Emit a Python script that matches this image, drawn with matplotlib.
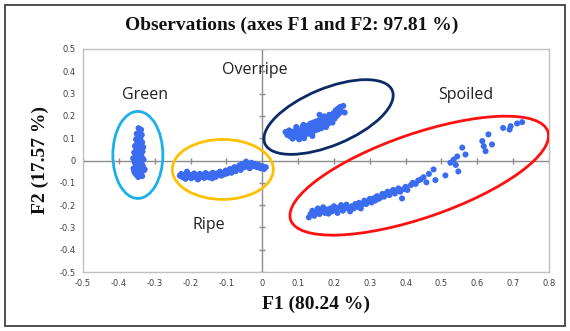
import matplotlib
matplotlib.use("Agg")
import matplotlib.pyplot as plt
from matplotlib.patches import Ellipse, Rectangle
from matplotlib.transforms import Affine2D
import numpy as np

# ---------------- data ----------------
green_x = [-0.345,-0.338,-0.342,-0.350,-0.336,-0.347,-0.340,-0.352,-0.344,-0.335,
           -0.349,-0.341,-0.355,-0.338,-0.346,-0.351,-0.343,-0.334,-0.357,-0.348,
           -0.339,-0.345,-0.353,-0.336,-0.342,-0.350,-0.331,-0.347,-0.340,-0.356,
           -0.344,-0.337,-0.352,-0.333,-0.348,-0.341,-0.359,-0.345,-0.330,-0.350,
           -0.338,-0.355,-0.343,-0.328,-0.349,-0.340,-0.357,-0.335,-0.346,-0.352,
           -0.339,-0.344,-0.360,-0.332,-0.347]
green_y = [0.145,0.138,0.128,0.120,0.115,0.108,0.100,0.095,0.088,0.082,
           0.076,0.070,0.065,0.060,0.055,0.050,0.045,0.040,0.036,0.032,
           0.028,0.024,0.020,0.016,0.012,0.008,0.004,0.000,-0.004,-0.008,
           -0.012,-0.016,-0.020,-0.024,-0.028,-0.032,-0.036,-0.040,-0.044,-0.048,
           -0.052,-0.056,-0.060,-0.040,-0.064,-0.068,-0.050,-0.070,-0.074,-0.062,
           0.030,0.090,0.010,0.060,-0.020]

ripe_x = [-0.230,-0.226,-0.222,-0.218,-0.214,-0.210,-0.206,-0.202,-0.198,-0.194,
          -0.190,-0.186,-0.182,-0.178,-0.174,-0.170,-0.166,-0.162,-0.158,-0.154,
          -0.150,-0.146,-0.142,-0.138,-0.134,-0.130,-0.126,-0.122,-0.118,-0.114,
          -0.110,-0.106,-0.102,-0.098,-0.094,-0.090,-0.086,-0.082,-0.078,-0.074,
          -0.068,-0.064,-0.060,-0.055,-0.050,-0.045,-0.040,-0.035,-0.030,-0.025,
          -0.020,-0.015,-0.010,-0.005,0.000,0.005,0.010,-0.210,-0.180,-0.140]
ripe_y = [-0.068,-0.060,-0.075,-0.065,-0.082,-0.058,-0.072,-0.064,-0.080,-0.068,
          -0.058,-0.075,-0.066,-0.082,-0.060,-0.072,-0.064,-0.078,-0.056,-0.068,
          -0.075,-0.062,-0.070,-0.055,-0.066,-0.074,-0.058,-0.064,-0.050,-0.068,
          -0.056,-0.062,-0.045,-0.058,-0.050,-0.038,-0.055,-0.044,-0.030,-0.048,
          -0.036,-0.022,-0.042,-0.015,-0.030,-0.005,-0.020,-0.035,-0.010,-0.025,
          -0.015,-0.030,-0.020,-0.035,-0.025,-0.038,-0.030,-0.050,-0.085,-0.080]

overripe_x = [0.065,0.070,0.075,0.078,0.082,0.085,0.088,0.092,0.095,0.098,
              0.100,0.103,0.106,0.108,0.110,0.112,0.115,0.117,0.120,0.122,
              0.125,0.127,0.130,0.132,0.134,0.136,0.138,0.140,0.142,0.144,
              0.146,0.148,0.150,0.152,0.154,0.156,0.158,0.160,0.162,0.165,
              0.168,0.170,0.173,0.176,0.178,0.181,0.184,0.187,0.190,0.193,
              0.196,0.199,0.202,0.205,0.208,0.211,0.214,0.217,0.220,0.226,
              0.230,0.115,0.160,0.095,0.140]
overripe_y = [0.128,0.115,0.135,0.108,0.122,0.098,0.130,0.112,0.140,0.105,
              0.125,0.095,0.118,0.135,0.108,0.150,0.128,0.100,0.140,0.118,
              0.155,0.130,0.145,0.120,0.165,0.138,0.152,0.128,0.170,0.145,
              0.158,0.135,0.175,0.150,0.162,0.140,0.180,0.155,0.168,0.145,
              0.185,0.160,0.198,0.172,0.150,0.190,0.165,0.205,0.180,0.195,
              0.170,0.212,0.188,0.225,0.200,0.232,0.210,0.240,0.220,0.245,
              0.215,0.160,0.205,0.150,0.110]

spoiled_x = [0.130,0.135,0.140,0.145,0.150,0.155,0.160,0.165,0.170,0.175,
             0.180,0.185,0.190,0.195,0.200,0.205,0.210,0.215,0.220,0.225,
             0.230,0.235,0.240,0.245,0.250,0.255,0.260,0.265,0.270,0.275,
             0.280,0.285,0.290,0.295,0.300,0.305,0.310,0.315,0.320,0.325,
             0.330,0.335,0.340,0.345,0.350,0.355,0.360,0.365,0.370,0.375,
             0.380,0.385,0.390,0.395,0.400,0.405,
             0.415,0.420,0.428,0.435,0.442,0.450,0.458,0.465,0.478,0.483,
             0.511,0.525,0.534,0.540,0.544,0.547,0.558,0.567,0.614,0.618,
             0.623,0.641,0.631,0.672,0.690,0.693,0.711,0.725]
spoiled_y = [-0.255,-0.240,-0.225,-0.248,-0.232,-0.215,-0.240,-0.225,-0.210,-0.235,
             -0.220,-0.238,-0.215,-0.228,-0.205,-0.222,-0.235,-0.210,-0.200,-0.225,
             -0.215,-0.198,-0.212,-0.228,-0.205,-0.215,-0.195,-0.208,-0.190,-0.215,
             -0.195,-0.180,-0.195,-0.185,-0.172,-0.188,-0.170,-0.180,-0.160,-0.172,
             -0.165,-0.150,-0.162,-0.148,-0.140,-0.155,-0.142,-0.132,-0.148,-0.135,
             -0.125,-0.140,-0.170,-0.128,-0.118,-0.132,
             -0.110,-0.100,-0.105,-0.090,-0.085,-0.075,-0.098,-0.060,-0.040,-0.088,
             -0.067,-0.010,0.004,-0.020,0.018,-0.049,0.058,0.027,0.087,0.064,
             0.042,0.072,0.117,0.146,0.139,0.154,0.166,0.172]

x_ticks = [-0.5,-0.4,-0.3,-0.2,-0.1,0,0.1,0.2,0.3,0.4,0.5,0.6,0.7,0.8]
y_ticks = [-0.5,-0.4,-0.3,-0.2,-0.1,0,0.1,0.2,0.3,0.4,0.5]
title = "Observations (axes F1 and F2: 97.81 %)"
x_label = "F1 (80.24 %)"
y_label = "F2 (17.57 %)"
group_labels = ["Green", "Overripe", "Spoiled", "Ripe"]

# ---------------- figure ----------------
W, H = 570, 331
fig = plt.figure(figsize=(W/100, H/100), dpi=100)
fig.patch.set_facecolor("white")
ax = fig.add_axes([83/W, 1-272/H, (549-83)/W, (272-49)/H])

pt_color = "#3b6cf0"
for xs, ys in [(green_x, green_y), (ripe_x, ripe_y), (overripe_x, overripe_y), (spoiled_x, spoiled_y)]:
    ax.scatter(xs, ys, s=19, color=pt_color, edgecolors="none", zorder=3)

ax.set_xlim(-0.5, 0.8)
ax.set_ylim(-0.5, 0.5)
ax.set_xticks(x_ticks)
ax.set_yticks(y_ticks)
ax.set_xticklabels([("%g" % t) for t in x_ticks])
ax.set_yticklabels([("%g" % t) for t in y_ticks])
ax.tick_params(length=0, labelsize=6, labelcolor="#404040", pad=5)
for sp in ax.spines.values():
    sp.set_color("#c0c0c0")
    sp.set_linewidth(1.0)

# zero axes with crossing ticks
ax.axhline(0, color="#8c8c8c", lw=1.0, zorder=1)
ax.axvline(0, color="#8c8c8c", lw=1.0, zorder=1)
xt = [t for t in x_ticks if t != 0]
yt = [t for t in y_ticks if t != 0]
ax.plot(xt, [0]*len(xt), ls="none", marker="|", ms=5, mew=1.0, color="#8c8c8c", zorder=1)
ax.plot([0]*len(yt), yt, ls="none", marker="_", ms=5, mew=1.0, color="#8c8c8c", zorder=1)

# ellipses defined in reference-pixel units around a data centre
sx = (549-83)/1.3
sy = (272-49)/1.0
def px_ellipse(cx, cy, w, h, ang, color, lw):
    e = Ellipse((0, 0), w, h, angle=ang, fill=False, edgecolor=color, lw=lw, zorder=4)
    e.set_transform(Affine2D().scale(1/sx, 1/sy).translate(cx, cy) + ax.transData)
    ax.add_patch(e)

px_ellipse(-0.347, 0.025, 50, 87, 0, "#1ab0ea", 2.0)
px_ellipse(-0.110, -0.040, 101, 60, 0, "#ffc000", 2.0)
px_ellipse(0.185, 0.195, 138, 57, 22.6, "#0b2a66", 2.0)
px_ellipse(0.438, -0.068, 272, 84, 19, "#ff1010", 2.0)

lab_font = dict(family="Open Sans", fontsize=11.5, color="#202020", ha="center", va="center")
ax.text(-0.327, 0.292, group_labels[0], **lab_font)
ax.text(-0.020, 0.405, group_labels[1], **lab_font)
ax.text(0.567, 0.292, group_labels[2], **lab_font)
ax.text(-0.150, -0.290, group_labels[3], **lab_font)

for lab in ax.get_xticklabels() + ax.get_yticklabels():
    lab.set_family("DejaVu Sans")

serif = dict(family="Liberation Serif", fontweight="bold", color="#111111")
fig.text(292/W, 1-25/H, title, ha="center", va="center", fontsize=14, **serif)
fig.text(316/W, 1-304/H, x_label, ha="center", va="center", fontsize=14, **serif)
fig.text(40/W, 1-160/H, y_label, ha="center", va="center", rotation=90, fontsize=14, **serif)

# outer frame
fig.patches.append(Rectangle((5/W, 5/H), 560/W, 321/H, transform=fig.transFigure,
                             fill=False, edgecolor="#404040", lw=1.3))

fig.savefig("out.png", dpi=100, facecolor="white")
